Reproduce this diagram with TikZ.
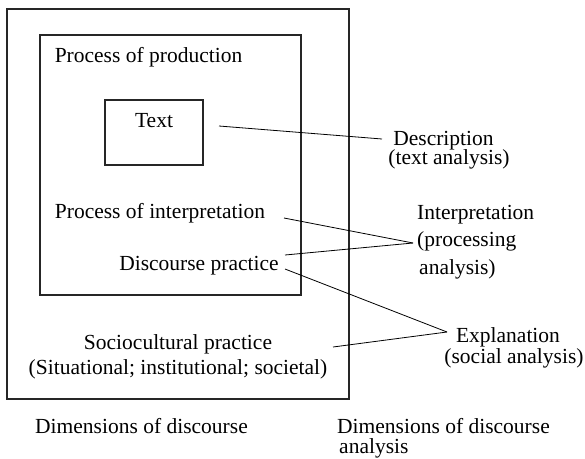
\documentclass[tikz,border=0pt]{standalone}
\usepackage{fontspec}
\setmainfont{Liberation Serif}
\begin{document}
\begin{tikzpicture}[x=1pt,y=-1pt,
  box/.style={draw=black!85, line width=1.1pt, inner sep=0pt, outer sep=0pt},
  lbl/.style={inner sep=0pt, font=\fontsize{21.5}{24}\selectfont},
  conn/.style={draw=black, line width=0.8pt}]
\useasboundingbox (0,0) rectangle (585,458);
\fill[white] (0,0) rectangle (585,458);
% boxes
\node[box, minimum width=342pt, minimum height=390pt] (outer) at (178,204) {};
\node[box, minimum width=261pt, minimum height=260pt] (inner) at (170.5,165) {};
\node[box, minimum width=98pt, minimum height=65pt] (textbox) at (154,132.5) {};
% left texts
\node[lbl, anchor=base] (prod) at (148.5,62) {Process of production};
\node[lbl, anchor=base] (text) at (154,127.7) {Text};
\node[lbl, anchor=base] (interp) at (160,218) {Process of interpretation};
\node[lbl, anchor=base] (disc) at (199,270.7) {Discourse practice};
\node[lbl, anchor=base] (socio) at (178,349) {Sociocultural practice};
\node[lbl, anchor=base] (socio2) at (178,374.3) {(Situational; institutional; societal)};
\node[lbl, anchor=base] (dimd) at (141.5,433.3) {Dimensions of discourse};
% right texts
\node[lbl, anchor=base] (desc1) at (443.5,145) {Description};
\node[lbl, anchor=base] (desc2) at (449,164.5) {(text analysis)};
\node[lbl, anchor=base west] (int1) at (417,219) {Interpretation};
\node[lbl, anchor=base west] (int2) at (417,246.7) {(processing};
\node[lbl, anchor=base west] (int3) at (419,274) {analysis)};
\node[lbl, anchor=base] (exp1) at (508,342.3) {Explanation};
\node[lbl, anchor=base] (exp2) at (514,363.3) {(social analysis)};
\node[lbl, anchor=base west] (dima1) at (337,433) {Dimensions of discourse};
\node[lbl, anchor=base west] (dima2) at (339,453) {analysis};
% connector ends
\coordinate (c1a) at (219,126);
\coordinate (c1b) at (382,139);
\coordinate (c2a) at (284,218);
\coordinate (c3a) at (285,255);
\coordinate (ip) at (413,243);
\coordinate (c4a) at (285,269);
\coordinate (c5a) at (333,347);
\coordinate (ex) at (447,332);
% connectors
\draw[conn] (c1a) -- (c1b);
\draw[conn] (c2a) -- (ip);
\draw[conn] (c3a) -- (ip);
\draw[conn] (c4a) -- (ex);
\draw[conn] (c5a) -- (ex);
\end{tikzpicture}
\end{document}
